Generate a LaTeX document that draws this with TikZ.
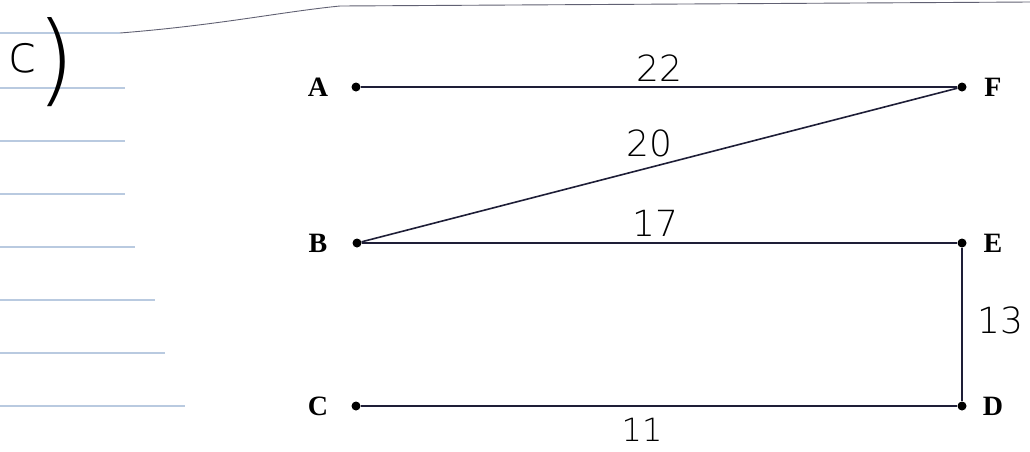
\documentclass[tikz,border=0pt]{standalone}
\usepackage{fontspec}
\setmainfont{Liberation Serif}
\newfontfamily\hand{DejaVu Sans ExtraLight}
\definecolor{ink}{RGB}{30,30,55}
\definecolor{rule}{RGB}{185,202,224}
\tikzset{
  seg/.style={draw=ink, line width=1.6pt},
  pt/.style={circle, fill=black, inner sep=0pt, minimum size=9pt},
  lab/.style={font=\fontsize{28}{28}\selectfont\bfseries, text=black},
  num/.style={font=\hand\fontsize{36}{36}\selectfont, text=black, inner sep=0pt},
  ruled/.style={draw=rule, line width=1.1pt}
}
\begin{document}
\begin{tikzpicture}[x=1pt,y=-1pt]
\useasboundingbox (0,0) rectangle (1030,451);
\fill[white] (0,0) rectangle (1030,451);
% ruled lines
\draw[ruled] (0,33) -- (120,33);
\draw[ruled] (0,88) -- (125,88);
\draw[ruled] (0,141) -- (125,141);
\draw[ruled] (0,194) -- (125,194);
\draw[ruled] (0,247) -- (135,247);
\draw[ruled] (0,300) -- (155,300);
\draw[ruled] (0,353) -- (165,353);
\draw[ruled] (0,406) -- (185,406);
% top curve
\draw[draw=ink!70, line width=0.9pt] (120,33) .. controls (220,25) and (280,12) .. (340,6) -- (1030,2);
% c)
\node[num, anchor=base west] (part) at (8,72) {{\fontsize{52}{52}\selectfont c}\raisebox{-21pt}{\fontsize{100}{100}\selectfont )}};
% points
\node[pt] (A) at (356,87) {};
\node[pt] (F) at (962,87) {};
\node[pt] (B) at (357,243) {};
\node[pt] (E) at (962,243) {};
\node[pt] (C) at (356,406) {};
\node[pt] (D) at (962,406) {};
% labels
\node[lab] (lA) at (318,87) {A};
\node[lab] (lB) at (318,243) {B};
\node[lab] (lC) at (318,406) {C};
\node[lab] (lF) at (993,87) {F};
\node[lab] (lE) at (993,243) {E};
\node[lab] (lD) at (993,406) {D};
% edges
\draw[seg] (A) -- (F);
\draw[seg] (B) -- (F);
\draw[seg] (B) -- (E);
\draw[seg] (E) -- (D);
\draw[seg] (C) -- (D);
% weights
\node[num] (w22) at (659,68) {22};
\node[num] (w20) at (649,143) {20};
\node[num] (w17) at (655,223) {17};
\node[num] (w13) at (1000,320) {13};
\node[num, font=\hand\fontsize{32}{32}\selectfont] (w11) at (642,430) {11};
\end{tikzpicture}
\end{document}
